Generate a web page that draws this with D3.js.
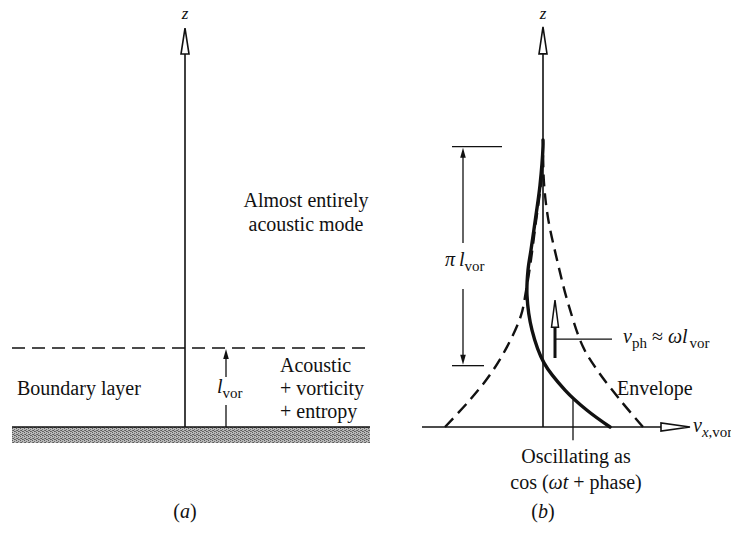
<!DOCTYPE html>
<html>
<head>
<meta charset="utf-8">
<script src="https://cdn.jsdelivr.net/npm/d3@7"></script>
<style>
  body { margin: 0; background: #fff; }
  svg text { font-family: "Liberation Serif", "DejaVu Serif", serif; fill: #111; }
</style>
</head>
<body>
<svg id="chart" width="731" height="533"></svg>
<script>
// panel (a): heights in units of l_vor
const groundA = 0;
const boundaryTopA = 1;
const zAxisTopA = 5.05;
const leftLabels = ["Boundary layer"];
const modeLabels = ["Almost entirely", "acoustic mode"];
const layerLabels = ["Acoustic", "+ vorticity", "+ entropy"];

// panel (b): v_x,vor normalised to envelope at the wall, z in units of l_vor
const envelopeRight = [[1.0, 0], [0.77, 0.39], [0.54, 0.82], [0.40, 1.15], [0.25, 1.78], [0.14, 2.40], [0.05, 3.0], [0.01, 3.5], [0, 3.97]];
const envelopeLeft = [[-0.98, 0], [-0.73, 0.39], [-0.53, 0.75], [-0.36, 1.15], [-0.22, 1.6], [-0.17, 1.95], [-0.13, 2.3], [-0.07, 2.95], [-0.02, 3.5], [0, 3.97]];
const oscillating = [[0.67, 0], [0.44, 0.24], [0.22, 0.53], [0.01, 0.92], [-0.11, 1.39], [-0.16, 1.89], [-0.15, 2.25], [-0.12, 2.54], [-0.07, 3.04], [-0.03, 3.47], [0, 4.02], [0, 4.12]];
const piSpan = [0.88, 0.88 + Math.PI];
const phaseArrow = { v: 0.12, z0: 0.99, z1: 1.82, leaderZ: 1.26, leaderV: 0.69 };
const oscLeader = { v: 0.30, z0: 0.39, z1: -0.19 };
const hAxisB = [-1.21, 1.47];
const zAxisTopB = 5.74;
const oscLabels = ["Oscillating as", "cos (ωt + phase)"];
const panelLabels = ["a", "b"];

const svg = d3.select("#chart");

// scales
const zA = d3.scaleLinear().domain([0, 1]).range([427, 348]);
const xB = d3.scaleLinear().domain([-1, 1]).range([443, 643]);
const zB = d3.scaleLinear().domain([0, 1]).range([427, 427 - 69.7]);
const axisXA = 185;

// dithered grey for the wall
const defs = svg.append("defs");
const pat = defs.append("pattern")
  .attr("id", "wall")
  .attr("width", 4).attr("height", 4)
  .attr("patternUnits", "userSpaceOnUse");
pat.append("rect").attr("width", 4).attr("height", 4).attr("fill", "#b8b8b8");
[[0, 0], [2, 1], [1, 2], [3, 3], [2, 3], [0, 2]].forEach(([x, y], i) => {
  pat.append("rect")
    .attr("x", x).attr("y", y).attr("width", 1).attr("height", 1)
    .attr("fill", i % 2 ? "#707070" : "#5a5a5a");
});

function openArrowUp(g, x, tipY, len, half) {
  g.append("path")
    .attr("d", `M${x},${tipY} L${x + half},${tipY + len} L${x - half},${tipY + len} Z`)
    .attr("fill", "#fff").attr("stroke", "#111").attr("stroke-width", 1.6)
    .attr("stroke-linejoin", "miter");
}

function filledArrow(g, x, tipY, dir) {
  // dir = -1 points up, +1 points down
  const len = 10, half = 2.8;
  g.append("path")
    .attr("d", `M${x},${tipY} L${x + half},${tipY - dir * len} L${x - half},${tipY - dir * len} Z`)
    .attr("fill", "#111");
}

/* ---------- panel (a) ---------- */
const ga = svg.append("g");

ga.append("rect")
  .attr("x", 12).attr("y", zA(groundA))
  .attr("width", 358).attr("height", 16)
  .attr("fill", "url(#wall)");
ga.append("line")
  .attr("x1", 12).attr("x2", 370)
  .attr("y1", zA(groundA)).attr("y2", zA(groundA))
  .attr("stroke", "#111").attr("stroke-width", 1.6);

// boundary layer edge
ga.append("line")
  .attr("x1", 12).attr("x2", 370)
  .attr("y1", zA(boundaryTopA)).attr("y2", zA(boundaryTopA))
  .attr("stroke", "#111").attr("stroke-width", 1.5)
  .attr("stroke-dasharray", "13,7");

// z axis
ga.append("line")
  .attr("x1", axisXA).attr("x2", axisXA)
  .attr("y1", zA(groundA)).attr("y2", zA(zAxisTopA) + 26)
  .attr("stroke", "#111").attr("stroke-width", 1.6);
openArrowUp(ga, axisXA, zA(zAxisTopA), 26, 4);
ga.append("text")
  .attr("x", axisXA).attr("y", 19)
  .attr("text-anchor", "middle").attr("font-style", "italic").attr("font-size", 17)
  .text("z");

// l_vor dimension
const lx = 226;
ga.append("line")
  .attr("x1", lx).attr("x2", lx)
  .attr("y1", zA(boundaryTopA) + 9).attr("y2", 377)
  .attr("stroke", "#111").attr("stroke-width", 1.3);
ga.append("line")
  .attr("x1", lx).attr("x2", lx)
  .attr("y1", 405).attr("y2", zA(groundA))
  .attr("stroke", "#111").attr("stroke-width", 1.3);
filledArrow(ga, lx, zA(boundaryTopA) + 1, -1);
const lvA = ga.append("text").attr("x", 217).attr("y", 393).attr("font-size", 20);
lvA.append("tspan").attr("font-style", "italic").text("l");
lvA.append("tspan").attr("font-size", 15).attr("dy", 5).text("vor");

ga.selectAll(".left-label")
  .data(leftLabels).enter()
  .append("text").attr("class", "left-label")
  .attr("x", 17).attr("y", 395).attr("font-size", 20)
  .text((d) => d);

ga.selectAll(".mode-label")
  .data(modeLabels).enter()
  .append("text").attr("class", "mode-label")
  .attr("x", 306).attr("y", (d, i) => 207 + i * 24)
  .attr("text-anchor", "middle").attr("font-size", 20)
  .text((d) => d);

ga.selectAll(".layer-label")
  .data(layerLabels).enter()
  .append("text").attr("class", "layer-label")
  .attr("x", 280).attr("y", (d, i) => 372 + i * 23)
  .attr("font-size", 20)
  .text((d) => d);

/* ---------- panel (b) ---------- */
const gb = svg.append("g");
const line = d3.line()
  .x((d) => xB(d[0]))
  .y((d) => zB(d[1]))
  .curve(d3.curveCatmullRom.alpha(0.5));

// horizontal axis v_x,vor
gb.append("line")
  .attr("x1", xB(hAxisB[0])).attr("x2", xB(hAxisB[1]) - 29)
  .attr("y1", zB(0)).attr("y2", zB(0))
  .attr("stroke", "#111").attr("stroke-width", 1.6);
const tipX = xB(hAxisB[1]);
gb.append("path")
  .attr("d", `M${tipX},${zB(0)} L${tipX - 29},${zB(0) - 4} L${tipX - 29},${zB(0) + 4} Z`)
  .attr("fill", "#fff").attr("stroke", "#111").attr("stroke-width", 1.6);

// z axis
gb.append("line")
  .attr("x1", xB(0)).attr("x2", xB(0))
  .attr("y1", zB(0)).attr("y2", zB(zAxisTopB) + 27)
  .attr("stroke", "#111").attr("stroke-width", 1.6);
openArrowUp(gb, xB(0), zB(zAxisTopB), 27, 4);
gb.append("text")
  .attr("x", xB(0)).attr("y", 19)
  .attr("text-anchor", "middle").attr("font-style", "italic").attr("font-size", 17)
  .text("z");

// envelope
[envelopeLeft, envelopeRight].forEach((env) => {
  gb.append("path")
    .attr("d", line(env))
    .attr("fill", "none").attr("stroke", "#111").attr("stroke-width", 2.4)
    .attr("stroke-dasharray", "12,7");
});

// oscillating profile
gb.append("path")
  .attr("d", line(oscillating))
  .attr("fill", "none").attr("stroke", "#111").attr("stroke-width", 3.4)
  .attr("stroke-linecap", "round");

// pi l_vor dimension
const dx = 463;
const yTop = zB(piSpan[1]), yBot = zB(piSpan[0]);
gb.append("line").attr("x1", 452).attr("x2", 502).attr("y1", yTop).attr("y2", yTop)
  .attr("stroke", "#111").attr("stroke-width", 1.3);
gb.append("line").attr("x1", 452).attr("x2", 484).attr("y1", yBot).attr("y2", yBot)
  .attr("stroke", "#111").attr("stroke-width", 1.3);
gb.append("line").attr("x1", dx).attr("x2", dx).attr("y1", yTop + 8).attr("y2", 243)
  .attr("stroke", "#111").attr("stroke-width", 1.3);
gb.append("line").attr("x1", dx).attr("x2", dx).attr("y1", 289).attr("y2", yBot - 8)
  .attr("stroke", "#111").attr("stroke-width", 1.3);
filledArrow(gb, dx, yTop + 1, -1);
filledArrow(gb, dx, yBot - 1, 1);
const piLab = gb.append("text").attr("x", 445).attr("y", 266).attr("font-size", 20);
piLab.append("tspan").attr("font-style", "italic").text("π");
piLab.append("tspan").attr("font-style", "italic").attr("dx", 4).text("l");
piLab.append("tspan").attr("font-size", 15).attr("dy", 5).text("vor");

// phase velocity arrow
const px = xB(phaseArrow.v);
gb.append("line").attr("x1", px).attr("x2", px)
  .attr("y1", zB(phaseArrow.z0)).attr("y2", zB(phaseArrow.z1) + 26)
  .attr("stroke", "#111").attr("stroke-width", 3);
gb.append("path")
  .attr("d", `M${px},${zB(phaseArrow.z1)} L${px + 3.5},${zB(phaseArrow.z1) + 27} L${px - 3.5},${zB(phaseArrow.z1) + 27} Z`)
  .attr("fill", "#fff").attr("stroke", "#111").attr("stroke-width", 1.5);
gb.append("line").attr("x1", px).attr("x2", xB(phaseArrow.leaderV))
  .attr("y1", zB(phaseArrow.leaderZ)).attr("y2", zB(phaseArrow.leaderZ))
  .attr("stroke", "#111").attr("stroke-width", 1.3);
const vph = gb.append("text").attr("x", 623).attr("y", 343).attr("font-size", 20);
vph.append("tspan").attr("font-style", "italic").text("v");
vph.append("tspan").attr("font-size", 15).attr("dy", 5).text("ph");
vph.append("tspan").attr("dy", -5).text(" ≈ ");
vph.append("tspan").attr("font-style", "italic").text("ωl");
vph.append("tspan").attr("font-size", 15).attr("dy", 5).attr("dx", 2).text("vor");

// envelope label
gb.append("text").attr("x", 617).attr("y", 395).attr("font-size", 20).text("Envelope");

// axis label v_x,vor
const vx = gb.append("text").attr("x", 693).attr("y", 432).attr("font-size", 20);
vx.append("tspan").attr("font-style", "italic").text("v");
vx.append("tspan").attr("font-size", 15).attr("dy", 5).attr("font-style", "italic").text("x");
vx.append("tspan").attr("font-size", 15).text(",vor");

// oscillation leader + label
gb.append("line")
  .attr("x1", xB(oscLeader.v)).attr("x2", xB(oscLeader.v))
  .attr("y1", zB(oscLeader.z0)).attr("y2", zB(oscLeader.z1))
  .attr("stroke", "#111").attr("stroke-width", 1.3);
const osc = gb.selectAll(".osc-label")
  .data(oscLabels).enter()
  .append("text").attr("class", "osc-label")
  .attr("x", 576).attr("y", (d, i) => 463 + i * 26)
  .attr("text-anchor", "middle").attr("font-size", 20);
osc.filter((d, i) => i === 0).text((d) => d);
const cosLab = osc.filter((d, i) => i === 1);
cosLab.append("tspan").text("cos (");
cosLab.append("tspan").attr("font-style", "italic").text("ωt");
cosLab.append("tspan").text(" + phase)");

// panel letters
svg.selectAll(".panel-label")
  .data(panelLabels).enter()
  .append("text").attr("class", "panel-label")
  .attr("x", (d, i) => (i === 0 ? axisXA : xB(0)))
  .attr("y", 518)
  .attr("text-anchor", "middle").attr("font-size", 20)
  .each(function (d) {
    const t = d3.select(this);
    t.append("tspan").text("(");
    t.append("tspan").attr("font-style", "italic").text(d);
    t.append("tspan").text(")");
  });
</script>
</body>
</html>
